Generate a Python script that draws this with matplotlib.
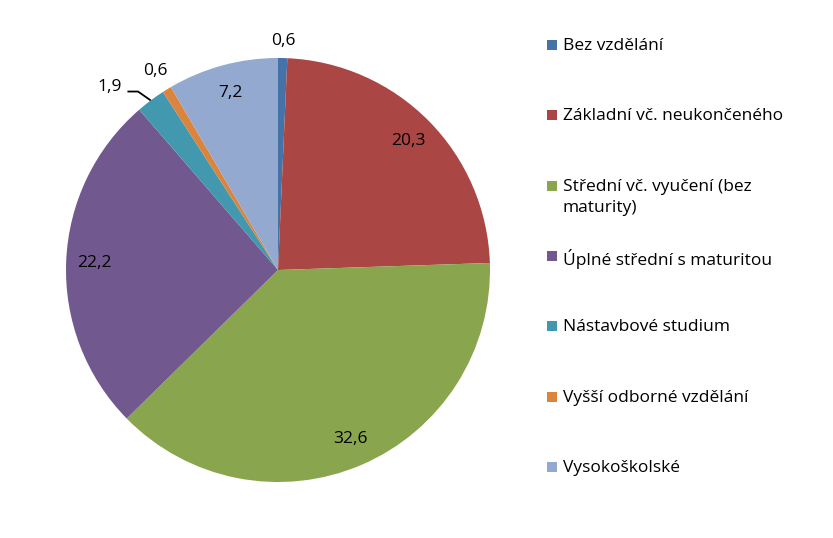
import numpy as np
import matplotlib
matplotlib.use("Agg")
import matplotlib.pyplot as plt
from matplotlib.patches import Rectangle

categories = ["Bez vzdělání", "Základní vč. neukončeného", "Střední vč. vyučení (bez\nmaturity)",
              "Úplné střední s maturitou", "Nástavbové studium", "Vyšší odborné vzdělání", "Vysokoškolské"]
values = [0.6, 20.3, 32.6, 22.2, 1.9, 0.6, 7.2]
labels = ["0,6", "20,3", "32,6", "22,2", "1,9", "0,6", "7,2"]
colors = ["#4572A7", "#AA4643", "#89A54E", "#71588F", "#4198AF", "#DB843D", "#93A9CF"]

plt.rcParams['font.family'] = ['Open Sans', 'DejaVu Sans']
W, H = 833, 538
fig = plt.figure(figsize=(W / 100, H / 100), dpi=100)

cx, cy, R = 278, 270, 212
ax = fig.add_axes([(cx - R) / W, (H - cy - R) / H, 2 * R / W, 2 * R / H])

wedges, _ = ax.pie(values, colors=colors, startangle=90, counterclock=False, radius=1,
                   wedgeprops=dict(linewidth=0))
ax.set_xlim(-1, 1)
ax.set_ylim(-1, 1)
ax.set_aspect('equal')
ax.axis('off')

fs = 12.5
for i, w in enumerate(wedges):
    mid = np.deg2rad((w.theta1 + w.theta2) / 2)
    frac = values[i] / sum(values)
    if frac > 0.05:
        r = 0.865
        ax.text(r * np.cos(mid), r * np.sin(mid), labels[i], ha='center', va='center', fontsize=fs)
    elif i == 4:
        # label with leader line
        p0 = np.array([np.cos(mid), np.sin(mid)])
        knee = p0 + np.array([-0.06, 0.042])
        end = knee + np.array([-0.05, 0])
        ax.plot([p0[0], knee[0], end[0]], [p0[1], knee[1], end[1]], color='black', lw=1.3,
                clip_on=False, solid_capstyle='butt')
        ax.text(end[0] - 0.025, end[1] + 0.022, labels[i], ha='right', va='center', fontsize=fs)
    else:
        r = 1.08 if i == 0 else 1.10
        ax.text(r * np.cos(mid), r * np.sin(mid), labels[i], ha='center', va='center', fontsize=fs)

# legend on the right
for i, (name, col) in enumerate(zip(categories, colors)):
    yc = 45 + 70.3 * i
    fig.patches.append(Rectangle((547 / W, 1 - (yc + 5) / H), 10 / W, 10 / H,
                                 transform=fig.transFigure, facecolor=col, edgecolor='none'))
    fig.text(563 / W, 1 - (yc - 7) / H, name, ha='left', va='top', fontsize=fs,
             linespacing=1.45)

fig.savefig("out.png", dpi=100)
